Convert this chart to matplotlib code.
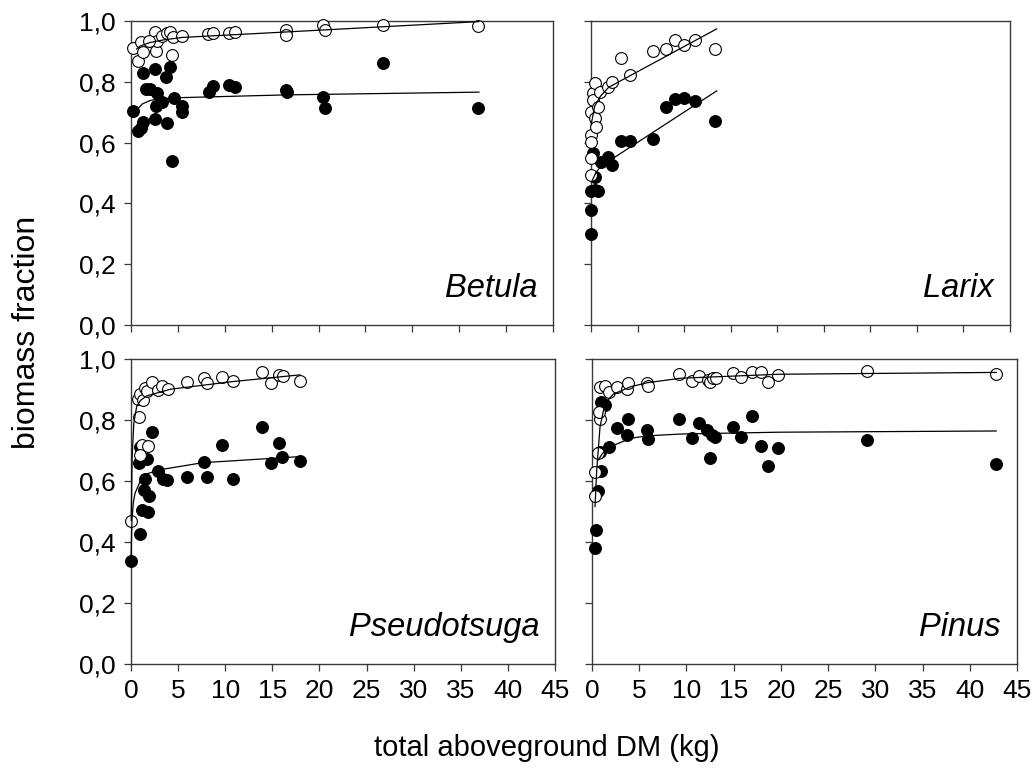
import matplotlib
matplotlib.use("Agg")
import matplotlib.pyplot as plt
from matplotlib.ticker import FixedLocator, FixedFormatter

plt.rcParams['font.family'] = ['Liberation Sans', 'DejaVu Sans']

# ---------------- data ----------------
species = ["Betula", "Larix", "Pseudotsuga", "Pinus"]

# Betula
betula_open_x = [0.25, 0.78, 1.07, 1.31, 2.56, 2.63, 2.81, 3.27, 3.80, 4.16, 4.34, 4.51, 5.47,
                 8.24, 8.78, 10.48, 11.09, 16.53, 16.53, 20.51, 20.69, 26.9, 37.03, 1.9]
betula_open_y = [0.912, 0.870, 0.932, 0.899, 0.963, 0.902, 0.935, 0.952, 0.959, 0.965, 0.888, 0.946, 0.952,
                 0.956, 0.959, 0.962, 0.965, 0.972, 0.953, 0.986, 0.970, 0.987, 0.985, 0.935]
betula_fill_x = [0.25, 0.78, 1.03, 1.31, 1.31, 1.60, 2.03, 2.56, 2.56, 2.63, 2.81, 3.27, 3.73, 3.80,
                 4.16, 4.34, 4.59, 5.40, 5.47, 8.35, 8.71, 10.48, 11.09, 16.53, 16.6, 20.51, 20.69,
                 26.9, 37.03]
betula_fill_y = [0.705, 0.638, 0.649, 0.669, 0.828, 0.775, 0.775, 0.841, 0.677, 0.720, 0.762, 0.735,
                 0.817, 0.663, 0.850, 0.539, 0.746, 0.720, 0.700, 0.765, 0.787, 0.789, 0.784, 0.773,
                 0.765, 0.749, 0.715, 0.863, 0.713]
betula_open_fit_x = [0.6, 1.0, 2.0, 3.5, 5.5, 16.6, 37.1]
betula_open_fit_y = [0.908, 0.918, 0.929, 0.938, 0.946, 0.964, 0.998]
betula_fill_fit_x = [0.7, 1.2, 2.0, 3.0, 5.4, 16.6, 37.1]
betula_fill_fit_y = [0.710, 0.727, 0.738, 0.744, 0.748, 0.757, 0.766]

# Larix
larix_open_x = [0.0, 0.0, 0.0, 0.0, 0.0, 0.18, 0.25, 0.43, 0.43, 0.54, 0.79, 0.97, 1.86, 2.22,
                3.22, 4.19, 6.69, 8.02, 9.02, 9.99, 11.17, 13.32]
larix_open_y = [0.625, 0.603, 0.548, 0.493, 0.702, 0.762, 0.740, 0.797, 0.680, 0.652, 0.718, 0.768,
                0.782, 0.800, 0.877, 0.824, 0.901, 0.907, 0.936, 0.921, 0.938, 0.909]
larix_fill_x = [0.0, 0.05, 0.0, 0.25, 0.43, 0.43, 0.79, 1.04, 1.86, 2.22, 3.22, 4.19, 6.69, 8.02,
                9.02, 9.99, 11.17, 13.32]
larix_fill_y = [0.298, 0.378, 0.442, 0.565, 0.488, 0.444, 0.442, 0.537, 0.554, 0.526, 0.606, 0.606,
                0.611, 0.716, 0.742, 0.746, 0.737, 0.671]
larix_open_fit_x = [0.02, 0.4, 1.0, 1.9, 13.5]
larix_open_fit_y = [0.660, 0.720, 0.752, 0.782, 0.974]
larix_fill_fit_x = [0.05, 0.5, 1.0, 2.4, 13.5]
larix_fill_fit_y = [0.470, 0.500, 0.520, 0.549, 0.770]

# Pseudotsuga
pseudo_open_x = [0.0, 0.88, 0.78, 0.96, 1.31, 1.49, 1.66, 1.13, 1.84, 0.96, 2.26, 2.90, 3.33, 3.89,
                 5.98, 7.75, 8.10, 9.62, 10.79, 13.87, 14.86, 15.74, 16.10, 17.94]
pseudo_open_y = [0.469, 0.811, 0.869, 0.885, 0.866, 0.904, 0.895, 0.718, 0.715, 0.685, 0.926, 0.898,
                 0.911, 0.902, 0.924, 0.939, 0.920, 0.940, 0.928, 0.958, 0.920, 0.948, 0.944, 0.929]
pseudo_fill_x = [0.0, 0.96, 1.13, 1.84, 1.38, 1.94, 1.49, 0.88, 0.96, 1.73, 2.26, 2.90, 3.36, 3.86,
                 5.98, 7.75, 8.10, 9.69, 10.79, 13.87, 14.86, 15.67, 15.99, 17.94]
pseudo_fill_y = [0.339, 0.426, 0.505, 0.497, 0.570, 0.552, 0.608, 0.658, 0.713, 0.672, 0.760, 0.634,
                 0.608, 0.603, 0.614, 0.661, 0.614, 0.718, 0.606, 0.776, 0.658, 0.724, 0.678, 0.667]
pseudo_open_fit_x = [0.02, 0.12, 0.3, 0.6, 1.0, 1.66, 4.2, 10.8, 17.94]
pseudo_open_fit_y = [0.470, 0.680, 0.790, 0.844, 0.864, 0.879, 0.901, 0.926, 0.948]
pseudo_fill_fit_x = [0.0, 0.1, 0.25, 0.43, 0.96, 1.66, 2.9, 7.6, 17.94]
pseudo_fill_fit_y = [0.339, 0.470, 0.530, 0.560, 0.598, 0.623, 0.636, 0.660, 0.680]

# Pinus
pinus_open_x = [0.32, 0.32, 0.67, 0.85, 0.74, 0.85, 1.38, 1.80, 2.61, 3.67, 3.85, 5.79, 5.96, 9.21,
                10.55, 11.33, 12.25, 12.49, 12.78, 13.13, 14.89, 15.77, 16.97, 17.89, 18.67, 19.66,
                29.15, 42.78]
pinus_open_y = [0.552, 0.631, 0.691, 0.802, 0.825, 0.909, 0.912, 0.893, 0.909, 0.900, 0.922, 0.922,
                0.912, 0.951, 0.929, 0.945, 0.931, 0.926, 0.937, 0.937, 0.955, 0.942, 0.956, 0.956,
                0.926, 0.948, 0.961, 0.951]
pinus_fill_x = [0.32, 0.39, 0.67, 0.92, 0.85, 0.92, 1.38, 1.80, 2.68, 3.67, 3.85, 5.79, 5.96, 9.21,
                10.55, 11.33, 12.14, 12.49, 12.67, 13.02, 14.89, 15.77, 16.97, 17.89, 18.67, 19.66,
                29.15, 42.78]
pinus_fill_y = [0.379, 0.439, 0.568, 0.633, 0.696, 0.860, 0.849, 0.710, 0.773, 0.751, 0.802, 0.767,
                0.738, 0.802, 0.740, 0.791, 0.767, 0.674, 0.751, 0.743, 0.778, 0.745, 0.813, 0.715,
                0.650, 0.709, 0.734, 0.656]
pinus_open_fit_x = [0.32, 0.5, 0.85, 1.38, 2.26, 4.1, 5.8, 9.4, 19.8, 42.8]
pinus_open_fit_y = [0.516, 0.636, 0.778, 0.855, 0.885, 0.909, 0.922, 0.937, 0.950, 0.956]
pinus_fill_fit_x = [0.67, 1.1, 1.9, 4.1, 5.8, 9.4, 19.8, 42.8]
pinus_fill_fit_y = [0.669, 0.690, 0.712, 0.740, 0.748, 0.754, 0.760, 0.764]

x_ticks = [0, 5, 10, 15, 20, 25, 30, 35, 40, 45]
x_ticklabels = ["0", "5", "10", "15", "20", "25", "30", "35", "40", "45"]
y_ticks = [0.0, 0.2, 0.4, 0.6, 0.8, 1.0]
y_ticklabels = ["0,0", "0,2", "0,4", "0,6", "0,8", "1,0"]

panels = [
    (betula_open_x, betula_open_y, betula_fill_x, betula_fill_y,
     betula_open_fit_x, betula_open_fit_y, betula_fill_fit_x, betula_fill_fit_y),
    (larix_open_x, larix_open_y, larix_fill_x, larix_fill_y,
     larix_open_fit_x, larix_open_fit_y, larix_fill_fit_x, larix_fill_fit_y),
    (pseudo_open_x, pseudo_open_y, pseudo_fill_x, pseudo_fill_y,
     pseudo_open_fit_x, pseudo_open_fit_y, pseudo_fill_fit_x, pseudo_fill_fit_y),
    (pinus_open_x, pinus_open_y, pinus_fill_x, pinus_fill_y,
     pinus_open_fit_x, pinus_open_fit_y, pinus_fill_fit_x, pinus_fill_fit_y),
]

# ---------------- layout (pixels) ----------------
W, H = 1034, 778
boxes = [(131, 553, 21, 325), (591, 1010, 21, 325),
         (131, 555, 359, 664), (592, 1017, 359, 664)]

fig = plt.figure(figsize=(W / 100, H / 100), dpi=100)

TICK_FS = 19
MS = 8.5
spine_col = "#3a3a3a"

for i, (box, data, name) in enumerate(zip(boxes, panels, species)):
    l, r, t, b = box
    ax = fig.add_axes([l / W, 1 - b / H, (r - l) / W, (b - t) / H])
    ox, oy, fx, fy, ofx, ofy, ffx, ffy = data
    ax.plot(fx, fy, linestyle="none", marker="o", ms=MS, mfc="black", mec="black",
            mew=0.8, clip_on=False, zorder=3)
    ax.plot(ox, oy, linestyle="none", marker="o", ms=MS, mfc="white", mec="black",
            mew=0.8, clip_on=False, zorder=4)
    ax.plot(ffx, ffy, color="black", lw=0.9, zorder=5, clip_on=False)
    ax.plot(ofx, ofy, color="black", lw=0.9, zorder=5, clip_on=False)

    ax.set_xlim(0, 45)
    ax.set_ylim(0, 1.0)
    ax.xaxis.set_major_locator(FixedLocator(x_ticks))
    ax.yaxis.set_major_locator(FixedLocator(y_ticks))
    if i >= 2:
        ax.xaxis.set_major_formatter(FixedFormatter(x_ticklabels))
    else:
        ax.set_xticklabels([])
    if i % 2 == 0:
        ax.yaxis.set_major_formatter(FixedFormatter(y_ticklabels))
    else:
        ax.set_yticklabels([])
    ax.tick_params(direction="out", length=5, width=0.9, color=spine_col,
                   labelsize=TICK_FS, pad=6)
    for s in ax.spines.values():
        s.set_color(spine_col)
        s.set_linewidth(1.0)

    wpx, hpx = r - l, b - t
    ax.text(1 - 16 / wpx, 28 / hpx, name, transform=ax.transAxes, ha="right",
            va="baseline", fontsize=23.5, style="italic", zorder=6)

fig.text(27 / W, 1 - 332 / H, "biomass fraction", rotation=90, ha="center",
         va="center", fontsize=23)
fig.text(547 / W, 1 - 748 / H, "total aboveground DM (kg)", ha="center",
         va="center", fontsize=21)

fig.savefig("out.png", dpi=100)
